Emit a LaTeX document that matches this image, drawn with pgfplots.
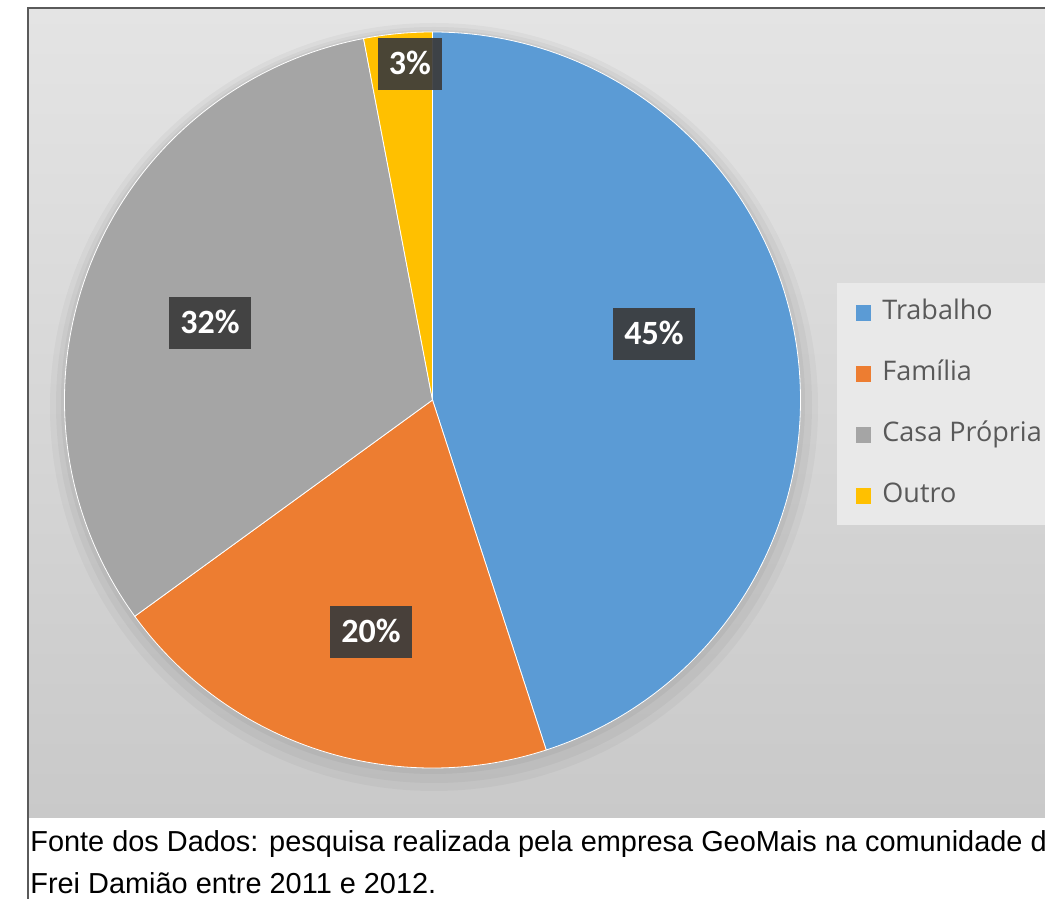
\documentclass[border=0pt]{standalone}
\usepackage{fontspec}
\setmainfont{Liberation Sans}
\newfontfamily\lblfont{Carlito}
\newfontfamily\legfont{Open Sans}
\usepackage{pgfplots}
\pgfplotsset{compat=1.18}
\definecolor{cTrab}{HTML}{5B9BD5}
\definecolor{cFam}{HTML}{ED7D31}
\definecolor{cCasa}{HTML}{A5A5A5}
\definecolor{cOutro}{HTML}{FFC000}
\definecolor{bgTop}{HTML}{E4E4E4}
\definecolor{bgBot}{HTML}{C9C9C9}
\definecolor{legBg}{HTML}{E9E9E9}
\definecolor{legTxt}{HTML}{595959}
\definecolor{frameC}{HTML}{5A5A5A}
\definecolor{lblBg}{HTML}{3B3B3B}
\begin{document}
\begin{tikzpicture}
\begin{axis}[
  width=522.5pt, height=449.5pt, scale only axis,
  xmin=0, xmax=1045, ymin=0, ymax=899,
  hide axis, clip=true,
  legend style={at={(837/1045,616/899)}, anchor=north west,
    fill=legBg, draw=none, font=\legfont\fontsize{13.5pt}{16pt}\selectfont,
    text=legTxt, row sep=17pt, inner xsep=9pt, inner ysep=8pt,
    nodes={text height=10pt, text depth=3.5pt, inner ysep=0pt}},
  legend cell align=left,
  legend image code/.code={\fill[#1,draw=none] (0.5pt,-3.8pt) rectangle (8pt,3.8pt);
    \path[draw=none,fill=none] (0pt,0pt) rectangle (11.5pt,0.1pt);},
]
% background panel
\path[top color=bgTop, bottom color=bgBot] (axis cs:29,81) rectangle (axis cs:1045,890);
% soft shadow behind the pie
\fill[black, opacity=0.03] (axis cs:434,492) circle[radius=192pt];
\fill[black, opacity=0.035] (axis cs:434,494) circle[radius=189pt];
\fill[black, opacity=0.04] (axis cs:433,497) circle[radius=186pt];
% pie slices: values 45, 20, 32, 3 (percent), clockwise from the top
\addplot[fill=cTrab, draw=white, line width=0.4pt] coordinates {(432.5,499)}
  -- ++(90:184pt) arc[start angle=90, end angle={90-3.6*45}, radius=184pt] -- cycle;
\addlegendentry{Trabalho}
\addplot[fill=cFam, draw=white, line width=0.4pt] coordinates {(432.5,499)}
  -- ++({90-3.6*45}:184pt) arc[start angle={90-3.6*45}, end angle={90-3.6*(45+20)}, radius=184pt] -- cycle;
\addlegendentry{Família}
\addplot[fill=cCasa, draw=white, line width=0.4pt] coordinates {(432.5,499)}
  -- ++({90-3.6*65}:184pt) arc[start angle={90-3.6*65}, end angle={90-3.6*(65+32)}, radius=184pt] -- cycle;
\addlegendentry{Casa Própria}
\addplot[fill=cOutro, draw=white, line width=0.4pt] coordinates {(432.5,499)}
  -- ++({90-3.6*97}:184pt) arc[start angle={90-3.6*97}, end angle={90-3.6*(97+3)}, radius=184pt] -- cycle;
\addlegendentry{Outro}
% data labels
\tikzset{lbl/.style={fill=lblBg, fill opacity=0.92, text opacity=1, text=white,
  font=\lblfont\bfseries\fontsize{17pt}{20pt}\selectfont, inner xsep=5.5pt,
  minimum height=26pt, text height=11pt, text depth=0pt}}
\node[lbl] at (axis cs:654,565) {45\%};
\node[lbl] at (axis cs:371,267) {20\%};
\node[lbl] at (axis cs:210,576) {32\%};
\node[lbl] at (axis cs:410,835) {3\%};
% frame lines
\draw[frameC, line width=1pt] (axis cs:28,0) -- (axis cs:28,891) -- (axis cs:1045,891);
% caption
\node[anchor=base west, inner sep=0pt, font=\fontsize{14.45pt}{17pt}\selectfont]
  at (axis cs:30,47) {Fonte dos Dados: pesquisa realizada pela empresa GeoMais na comunidade d};
\node[anchor=base west, inner sep=0pt, font=\fontsize{14.45pt}{17pt}\selectfont]
  at (axis cs:30,5) {Frei Damião entre 2011 e 2012.};
\end{axis}
\pgfresetboundingbox
\path[use as bounding box] (current axis.south west) rectangle (current axis.north east);
\end{tikzpicture}
\end{document}
